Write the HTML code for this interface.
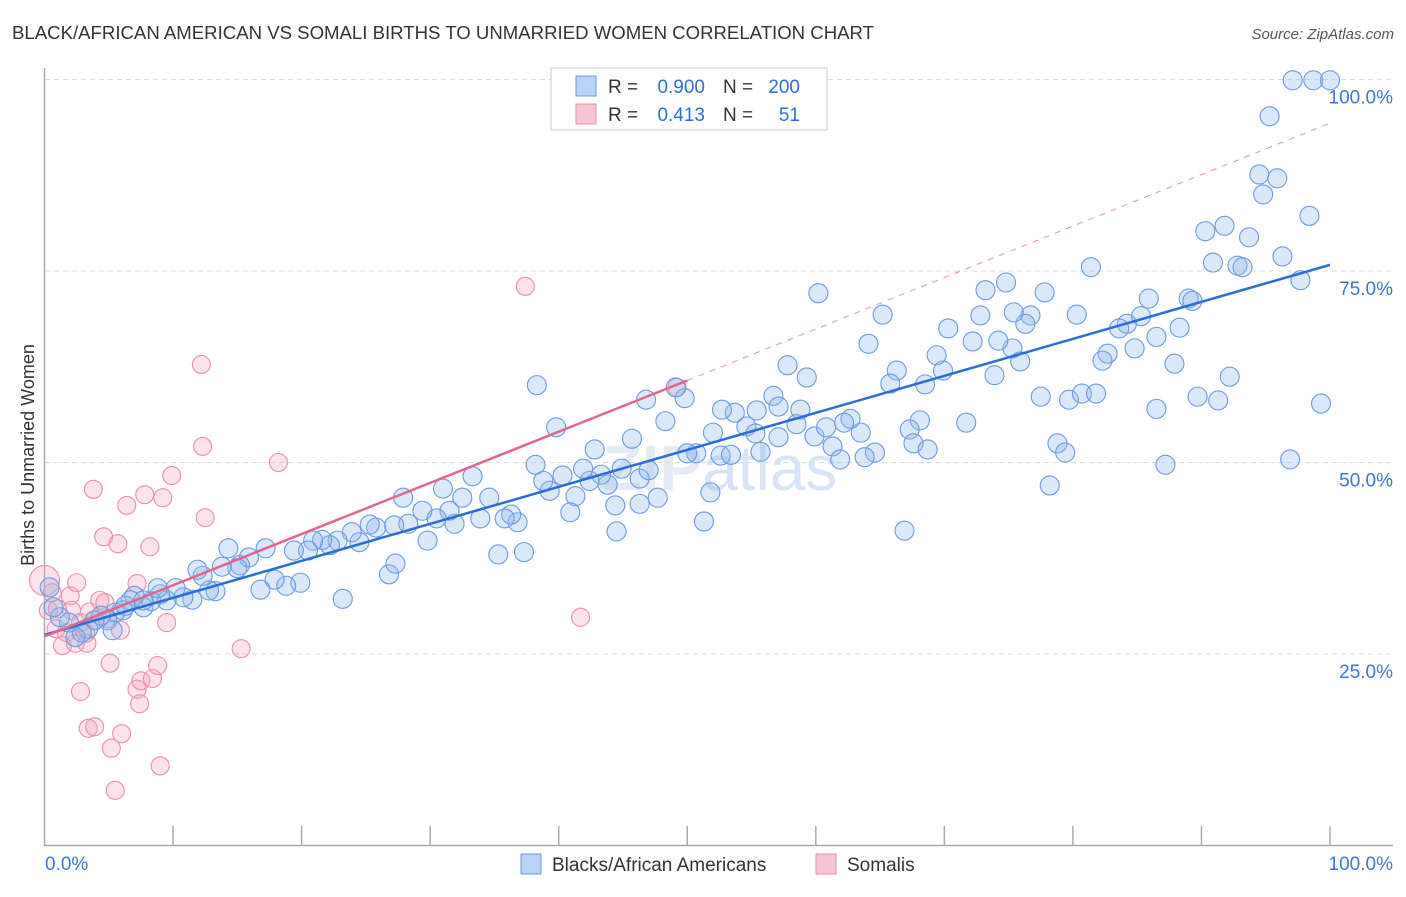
<!DOCTYPE html>
<html><head><meta charset="utf-8"><style>
body{margin:0;background:#fff;font-family:"Liberation Sans",sans-serif}
svg text{font-family:"Liberation Sans",sans-serif}
</style></head><body>
<svg id="chart" width="1406" height="892" xmlns="http://www.w3.org/2000/svg">
<text x="12" y="39" font-size="18.6" fill="#333">BLACK/AFRICAN AMERICAN VS SOMALI BIRTHS TO UNMARRIED WOMEN CORRELATION CHART</text>
<text x="1394" y="39" font-size="15" fill="#555" font-style="italic" text-anchor="end">Source: ZipAtlas.com</text>
<text x="720" y="490" font-size="64" font-weight="bold" fill="#e4ebf4" text-anchor="middle">ZIP<tspan font-weight="normal" fill="#d6e4f5">atlas</tspan></text>
<g id="grid"></g><g id="axes"></g>
<g id="pink"></g><g id="blue"></g><g id="trends"></g>
<text transform="translate(34,455) rotate(-90)" font-size="18" fill="#333" text-anchor="middle">Births to Unmarried Women</text>
<g>
<rect x="551" y="68" width="276" height="62" fill="#fff" stroke="#ccc"/>
<rect x="576" y="76" width="20" height="20" fill="#b8d3f5" stroke="#6a9be0"/>
<rect x="576" y="104" width="20" height="20" fill="#f8c5d5" stroke="#e890ac"/>
<text x="608" y="93" font-size="19" fill="#333">R =</text>
<text x="705" y="93" font-size="19" fill="#2d6fd6" text-anchor="end">0.900</text>
<text x="723" y="93" font-size="19" fill="#333">N =</text>
<text x="800" y="93" font-size="19" fill="#2d6fd6" text-anchor="end">200</text>
<text x="608" y="121" font-size="19" fill="#333">R =</text>
<text x="705" y="121" font-size="19" fill="#2d6fd6" text-anchor="end">0.413</text>
<text x="723" y="121" font-size="19" fill="#333">N =</text>
<text x="800" y="121" font-size="19" fill="#2d6fd6" text-anchor="end">51</text>
</g>
<g>
<rect x="521" y="854" width="20" height="20" fill="#b8d3f5" stroke="#6a9be0"/>
<text x="552" y="871" font-size="19" fill="#333">Blacks/African Americans</text>
<rect x="816" y="854" width="20" height="20" fill="#f8c5d5" stroke="#e890ac"/>
<text x="847" y="871" font-size="19" fill="#333">Somalis</text>
</g>
</svg>
<script>
const blueX=[97.1,98.7,100,95.3,94.5,95.9,94.8,98.4,90.3,91.8,93.7,96.3,90.9,92.8,93.2,97.7,81.4,89,89.3,85.9,88.3,86.5,85.3,84.2,83.6,82.7,82.3,84.8,87.9,92.2,89.7,91.3,86.5,87.2,96.9,99.3,77.8,80.3,76.7,76.3,74.8,75.4,73.2,72.8,72.2,70.3,69.9,69.4,68.5,68.1,71.7,73.9,75.3,75.9,77.5,79.7,80.7,81.8,78.8,79.4,78.2,74.2,64.1,65.2,66.3,65.8,63.5,62.7,62.2,64.6,63.8,67.3,67.6,68.7,66.9,60.2,59.3,57.8,58.8,56.7,57.1,55.4,54.6,53.7,52.7,52,55.3,55.7,57.1,58.5,59.9,60.8,61.3,61.9,52.6,53.4,49.8,49.1,48.3,46.8,45.7,50.7,50,51.8,51.3,46.3,47,47.7,46.3,44.4,44.5,44.9,43.8,43.3,42.4,41.9,41.3,40.9,40.3,39.3,38.8,38.2,38.3,39.8,42.8,36.8,36.3,35.8,37.3,35.3,34.6,33.9,33.3,32.5,31.9,31.5,31,30.5,29.8,29.4,28.3,27.9,27.2,26.8,27.3,25.8,25.3,24.5,23.9,23.2,22.8,22.2,21.6,20.9,20.5,19.9,19.4,18.8,17.9,17.2,16.8,15.9,15.2,15,14.3,13.8,13.3,12.8,12.3,11.9,11.5,10.8,10.2,9.5,9,8.3,7.7,7,6.7,6.1,5.5,4.9,5.3,4.4,3.9,3.4,2.9,2.4,1.9,1.2,0.7,0.4,8.8,7.7,6.3];
const blueY=[99.9,99.9,99.9,95.2,87.6,87.1,85,82.2,80.2,80.9,79.4,76.9,76.1,75.7,75.5,73.8,75.5,71.4,71.1,71.4,67.6,66.4,69.1,68.1,67.5,64.2,63.3,64.9,62.9,61.2,58.6,58.1,57,49.7,50.4,57.7,72.2,69.3,69.2,68.1,73.5,69.6,72.5,69.2,65.8,67.5,62,64,60.2,55.5,55.2,61.4,64.9,63.2,58.6,58.2,59,59,52.5,51.3,47,65.9,65.5,69.3,62,60.3,53.9,55.7,55.2,51.3,50.7,54.3,52.5,51.7,41.1,72.1,61.1,62.7,56.9,58.7,57.3,56.8,54.7,56.5,56.9,53.9,53.8,51.4,53.3,55,53.4,54.6,52.1,50.4,50.9,51,58.4,59.8,55.4,58.2,53.1,51.2,51.2,46.1,42.3,47.9,49,45.4,44.6,44.4,41,49.2,47.1,48.4,47.6,49.2,45.6,43.5,48.3,46.3,47.6,49.7,60.1,54.6,51.7,42.2,43.2,42.7,38.3,38,45.4,42.7,48.2,45.4,42,43.7,46.6,42.7,39.8,43.7,42,45.4,41.8,35.4,36.8,41.5,41.9,39.6,40.9,32.2,39.8,39.2,39.9,39.8,38.5,34.3,38.5,33.9,34.7,38.8,33.4,37.6,36.6,36.2,38.8,36.4,33.2,33.3,35.2,36,32.1,32.4,33.6,32,32.8,31.9,31.1,32.6,32,30.7,30.4,29.4,28.1,30,29.4,28.3,27.8,27.2,29.1,29.8,31.1,33.7,33.6,32,31.3];
const pinkX=[0,0.6,0.3,0.9,1.4,2,2.4,2.5,2.1,2.8,3.2,3.3,3.8,2.8,3.4,3.9,4.3,4.6,4.9,5.1,5.2,5.5,5.7,6.0,6.4,7.2,7.2,7.5,7.4,7.8,8.2,8.4,8.8,9,9.2,9.5,9.9,12.2,12.3,12.5,15.3,18.2,37.4,41.7,49.2,3.9,1.7,4.7,1.0,3.5,5.9];
const pinkY=[34.6,33,30.7,28.3,26.1,32.6,26.4,34.3,30.7,29.1,27.7,26.4,46.5,20.1,15.3,15.5,32,40.3,29.6,23.8,12.7,7.2,39.4,14.6,44.4,34.2,20.4,21.5,18.5,45.8,39,21.8,23.5,10.4,45.4,29.1,48.3,62.8,52.1,42.8,25.7,50,73,29.8,59.8,29.4,27.8,31.7,30.9,30.5,28.1];
const yTicks=[25,50,75,100];
const xTickVals=[0,10,20,30,40,50,60,70,80,90,100];
const blueTrend=[[0,27.5],[100,75.8]];
const pinkTrend=[[0,27.3],[50,60.7]];
const pinkDash=[[50,60.7],[100,94.3]];
const NS='http://www.w3.org/2000/svg';
const sx=v=>44.5+v*12.855, sy=v=>845.5-v*7.66;
function mk(tag,parent,attrs){const e=document.createElementNS(NS,tag);for(const k in attrs)e.setAttribute(k,attrs[k]);document.getElementById(parent).appendChild(e);return e;}
yTicks.forEach(t=>{
 const l=mk('line','grid',{x1:45,x2:1393,y1:sy(t),y2:sy(t),stroke:'#ddd','stroke-dasharray':'5,4'});
 
 
 const tx=mk('text','grid',{x:1393,y:sy(t)+24,'font-size':19,fill:'#3d76d6','text-anchor':'end'});
 tx.textContent=t.toFixed(1)+'%';
 
 
});
const ax=mk('path','axes',{d:`M44.5 68 V845.5 H1393`,stroke:'#aaa',fill:'none','stroke-width':1.5});


xTickVals.slice(1).forEach(t=>{
 const l=mk('line','axes',{x1:sx(t),x2:sx(t),y1:826,y2:845,stroke:'#aaa','stroke-width':1.5});
 
 
});
[[0,'start',45],[100,'end',1393]].forEach(([v,a,x])=>{
 const tx=mk('text','axes',{x:x,y:870,'font-size':19,fill:'#3d76d6','text-anchor':a});
 tx.textContent=v.toFixed(1)+'%';
 
 
});
pinkX.forEach((x,i)=>{
 const c=mk('circle','pink',{cx:sx(x),cy:sy(pinkY[i]),r:i==0?15:9,fill:'rgba(245,165,192,0.32)',stroke:'#e98fae','stroke-width':1.1});
 
 
});
blueX.forEach((x,i)=>{
 const c=mk('circle','blue',{cx:sx(x),cy:sy(blueY[i]),r:9.5,fill:'rgba(145,185,238,0.33)',stroke:'#6a9be0','stroke-width':1.1});
 
 
});
function line(p,stroke,w,dash,name){const l=mk('line','trends',{x1:sx(p[0][0]),y1:sy(p[0][1]),x2:sx(p[1][0]),y2:sy(p[1][1]),stroke:stroke,'stroke-width':w});if(dash)l.setAttribute('stroke-dasharray',dash);
 
 }
line(pinkDash,'#e98fae',1,'6,6','somali-trend-extension');
line(blueTrend,'#2a6dd8',2.5,null,'black-trend-line');
line(pinkTrend,'#e0668f',2.5,null,'somali-trend-line');
</script>
</body></html>
